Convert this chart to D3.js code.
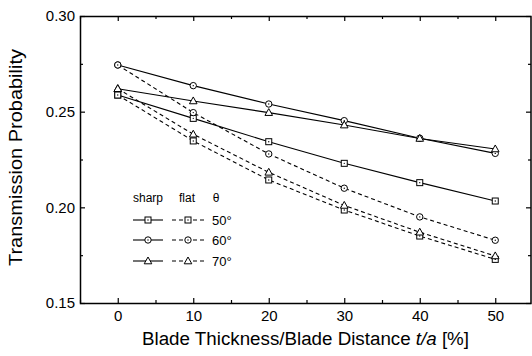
<!DOCTYPE html>
<html>
<head>
<meta charset="utf-8">
<script src="https://cdn.jsdelivr.net/npm/d3@7"></script>
<style>
  body { margin: 0; background: #fff; }
  svg { display: block; font-family: "Liberation Sans", Arial, sans-serif; }
</style>
</head>
<body>
<div id="chart"></div>
<script>
// thickness ratio t/a in %
const thickness = [0, 10, 20, 30, 40, 50];

// sharp blades (solid lines)
const sharp50 = [0.2587, 0.2465, 0.2343, 0.2230, 0.2129, 0.2033];
const sharp60 = [0.2744, 0.2636, 0.2540, 0.2453, 0.2361, 0.2282];
const sharp70 = [0.2620, 0.2556, 0.2495, 0.2430, 0.2360, 0.2305];

// flat blades (dashed lines)
const flat50 = [0.2587, 0.2347, 0.2143, 0.1986, 0.1850, 0.1728];
const flat60 = [0.2744, 0.2495, 0.2279, 0.2100, 0.1950, 0.1828];
const flat70 = [0.2620, 0.2382, 0.2183, 0.2010, 0.1870, 0.1746];

const angles = ['50°', '60°', '70°'];
const shapes = ['square', 'circle', 'triangle'];

const xTicks = [0, 10, 20, 30, 40, 50];
const xMinor = [-5, 5, 15, 25, 35, 45, 55];
const yTicks = [0.15, 0.20, 0.25, 0.30];
const yMinor = [0.175, 0.225, 0.275];

const width = 532;
const height = 356;
const margin = { top: 16, right: 1, bottom: 53, left: 80 };

const svg = d3.select('#chart').append('svg')
  .attr('width', width)
  .attr('height', height);

const x = d3.scaleLinear().domain([-5, 55]).range([margin.left, 533]);
const y = d3.scaleLinear().domain([0.15, 0.30]).range([height - margin.bottom, margin.top]);

const plotRight = width - margin.right;
const plotBottom = height - margin.bottom;

// frame
svg.append('rect')
  .attr('x', margin.left + 0.5)
  .attr('y', margin.top + 0.5)
  .attr('width', plotRight - margin.left - 0.5)
  .attr('height', plotBottom - margin.top)
  .attr('fill', 'none')
  .attr('stroke', '#000')
  .attr('stroke-width', 1.5);

function styleAxis(g) {
  g.select('.domain').remove();
  g.selectAll('line').attr('stroke', '#000').attr('stroke-width', 1.2);
  g.selectAll('text').attr('fill', '#000').style('font-size', '15px').style('font-family', '"Liberation Sans", Arial, sans-serif');
}

// bottom
svg.append('g').attr('transform', `translate(0,${plotBottom})`)
  .call(d3.axisBottom(x).tickValues(xTicks).tickSize(-5).tickPadding(7).tickFormat(d3.format('d')))
  .call(styleAxis);
svg.append('g').attr('transform', `translate(0,${plotBottom})`)
  .call(d3.axisBottom(x).tickValues(xMinor).tickSize(-3).tickFormat(''))
  .call(styleAxis);
// top
svg.append('g').attr('transform', `translate(0,${margin.top})`)
  .call(d3.axisTop(x).tickValues(xTicks).tickSize(-5).tickFormat(''))
  .call(styleAxis);
svg.append('g').attr('transform', `translate(0,${margin.top})`)
  .call(d3.axisTop(x).tickValues(xMinor).tickSize(-3).tickFormat(''))
  .call(styleAxis);
// left
svg.append('g').attr('transform', `translate(${margin.left},0)`)
  .call(d3.axisLeft(y).tickValues(yTicks).tickSize(-5).tickPadding(5).tickFormat(d3.format('.2f')))
  .call(styleAxis);
svg.append('g').attr('transform', `translate(${margin.left},0)`)
  .call(d3.axisLeft(y).tickValues(yMinor).tickSize(-3).tickFormat(''))
  .call(styleAxis);
// right
svg.append('g').attr('transform', `translate(${plotRight},0)`)
  .call(d3.axisRight(y).tickValues(yTicks).tickSize(-5).tickFormat(''))
  .call(styleAxis);
svg.append('g').attr('transform', `translate(${plotRight},0)`)
  .call(d3.axisRight(y).tickValues(yMinor).tickSize(-3).tickFormat(''))
  .call(styleAxis);

// axis titles
svg.append('text')
  .attr('transform', `translate(22,${(margin.top + plotBottom) / 2 - 2}) rotate(-90)`)
  .attr('text-anchor', 'middle')
  .attr('textLength', 217)
  .attr('lengthAdjust', 'spacingAndGlyphs')
  .style('font-size', '18px')
  .text('Transmission Probability');

const xTitle = svg.append('text')
  .attr('x', (margin.left + plotRight) / 2)
  .attr('y', 345)
  .attr('text-anchor', 'middle')
  .attr('textLength', 327)
  .attr('lengthAdjust', 'spacingAndGlyphs')
  .style('font-size', '18px');
xTitle.append('tspan').text('Blade Thickness/Blade Distance ');
xTitle.append('tspan').style('font-style', 'italic').text('t/a');
xTitle.append('tspan').text(' [%]');

// markers
function drawMarker(g, shape, cx, cy) {
  if (shape === 'square') {
    g.append('rect').attr('x', cx - 3).attr('y', cy - 3).attr('width', 6).attr('height', 6)
      .attr('fill', '#fff').attr('stroke', '#000').attr('stroke-width', 1);
    g.append('circle').attr('cx', cx).attr('cy', cy).attr('r', 0.7).attr('fill', '#000');
  } else if (shape === 'circle') {
    g.append('circle').attr('cx', cx).attr('cy', cy).attr('r', 3.2)
      .attr('fill', '#fff').attr('stroke', '#000').attr('stroke-width', 1);
    g.append('circle').attr('cx', cx).attr('cy', cy).attr('r', 0.7).attr('fill', '#000');
  } else {
    g.append('path').attr('d', `M${cx},${cy - 4}L${cx + 3.8},${cy + 2.8}L${cx - 3.8},${cy + 2.8}Z`)
      .attr('fill', '#fff').attr('stroke', '#000').attr('stroke-width', 1);
  }
}

const series = [
  { values: sharp50, shape: 'square', dashed: false },
  { values: sharp60, shape: 'circle', dashed: false },
  { values: sharp70, shape: 'triangle', dashed: false },
  { values: flat50, shape: 'square', dashed: true },
  { values: flat60, shape: 'circle', dashed: true },
  { values: flat70, shape: 'triangle', dashed: true }
];

const line = d3.line()
  .x((d, i) => x(thickness[i]))
  .y(d => y(d));

const linesG = svg.append('g');
series.forEach(s => {
  linesG.append('path')
    .datum(s.values)
    .attr('fill', 'none')
    .attr('stroke', '#000')
    .attr('stroke-width', 1.1)
    .attr('stroke-dasharray', s.dashed ? '4,3' : null)
    .attr('d', line);
});
const markersG = svg.append('g');
series.forEach(s => {
  s.values.forEach((v, i) => drawMarker(markersG, s.shape, x(thickness[i]), y(v)));
});

// legend
const legend = svg.append('g').style('font-size', '12px');
legend.append('text').attr('x', 148).attr('y', 202).attr('text-anchor', 'middle').text('sharp');
legend.append('text').attr('x', 187).attr('y', 202).attr('text-anchor', 'middle').text('flat');
legend.append('text').attr('x', 216).attr('y', 202).attr('text-anchor', 'middle').text('θ');

const rowY = [220, 240, 261];
angles.forEach((a, i) => {
  const ry = rowY[i];
  legend.append('line').attr('x1', 133).attr('x2', 163).attr('y1', ry).attr('y2', ry)
    .attr('stroke', '#000').attr('stroke-width', 1.1);
  legend.append('line').attr('x1', 172).attr('x2', 204).attr('y1', ry).attr('y2', ry)
    .attr('stroke', '#000').attr('stroke-width', 1.1).attr('stroke-dasharray', '4,3');
  drawMarker(legend, shapes[i], 148, ry);
  drawMarker(legend, shapes[i], 188, ry);
  legend.append('text').attr('x', 212).attr('y', ry + 4.5).style('font-size', '13px').text(a);
});
</script>
</body>
</html>
